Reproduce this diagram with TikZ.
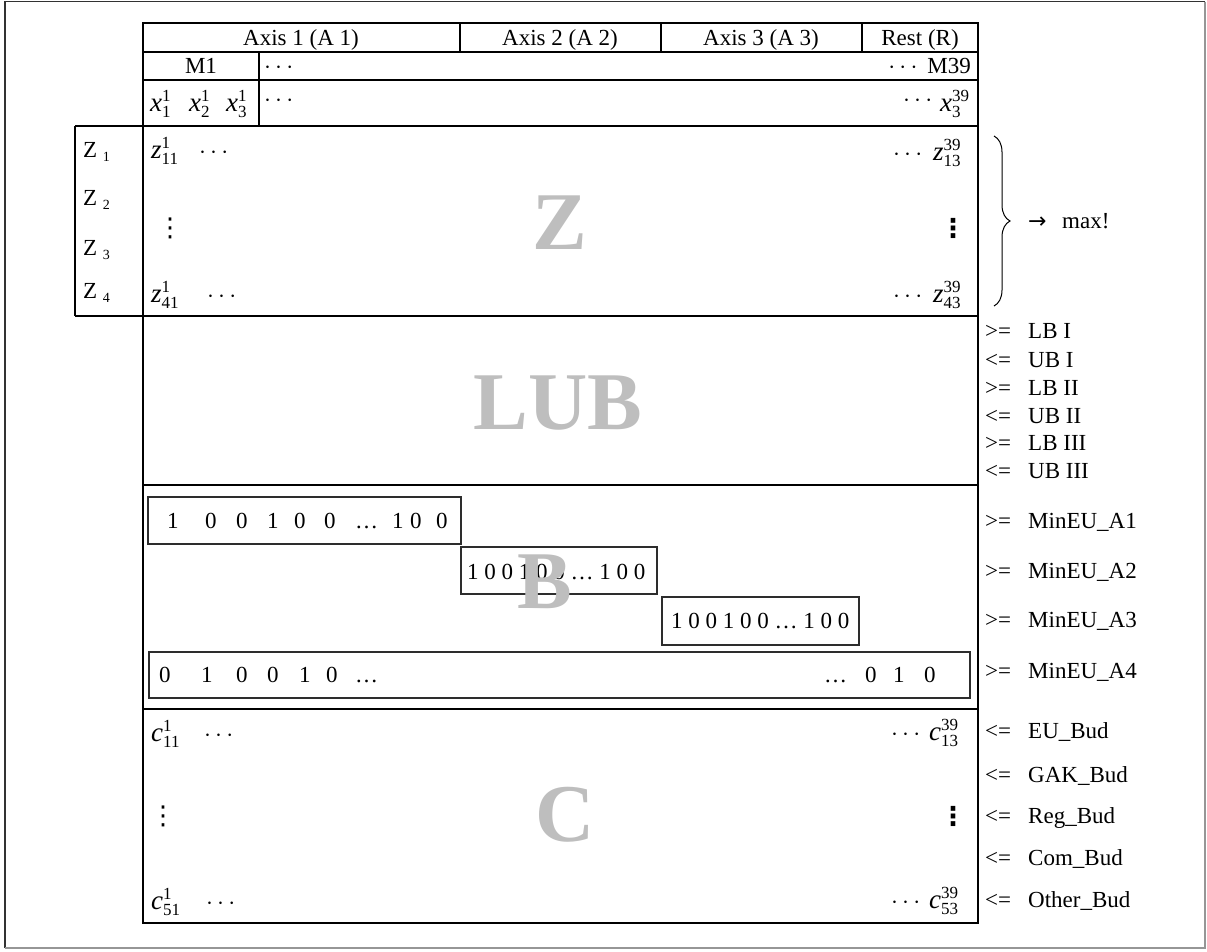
\documentclass[tikz,border=0pt]{standalone}
\usepackage{amsmath}
\usepackage{fontspec}
\setmainfont{Liberation Serif}
\newfontfamily\symfont{DejaVu Sans}
\usetikzlibrary{positioning, decorations.pathreplacing}
\definecolor{framegray}{RGB}{50,50,50}
\definecolor{shadegray}{RGB}{150,150,150}
\definecolor{letgray}{RGB}{190,190,190}
\definecolor{boxline}{RGB}{45,45,45}

\newcommand{\scr}[1]{\text{\fontsize{17}{17}\selectfont #1}}
\newcommand{\tvar}[3]{$\text{\fontsize{27}{27}\selectfont\itshape #1}^{\scr{#2}}_{\scr{#3}}$}
\newcommand{\thinvdots}{{\symfont\fontsize{26}{26}\selectfont ⋮}}
\newcommand{\boldvdots}{{\symfont\bfseries\fontsize{26}{26}\selectfont ⋮}}

\tikzset{
  txt/.style={font=\fontsize{23}{27}\selectfont, inner sep=0pt},
  bigletter/.style={font=\fontsize{82}{86}\selectfont\bfseries, text=letgray, inner sep=0pt},
  grid line/.style={line width=2pt},
  vecbox/.style={draw=boxline, line width=1.1pt},
}

\begin{document}
\begin{tikzpicture}[x=1pt, y=-1pt]
  \useasboundingbox (0,0) rectangle (1207,951);
  % outer frame
  \draw[framegray, line width=1.5pt] (5,948) -- (5,1.5) -- (1205,1.5);
  \draw[shadegray, line width=1.5pt] (1205,1.5) -- (1205,948) -- (5,948);

  % table lines
  \draw[grid line] (143,23) rectangle (978,923);
  \foreach \yy in {52,80,485,709} \draw[grid line] (143,\yy) -- (978,\yy);
  \draw[grid line] (75,126) -- (978,126);
  \draw[grid line] (75,316) -- (978,316);
  \draw[grid line] (75,126) -- (75,316);
  \foreach \xx in {460,661,862} \draw[grid line] (\xx,23) -- (\xx,52);
  \draw[grid line] (259,52) -- (259,126);

  % header rows
  \node[txt, anchor=base] (axisone) at (301,45) {Axis 1 (A 1)};
  \node[txt, anchor=base] (axistwo) at (560,45) {Axis 2 (A 2)};
  \node[txt, anchor=base] (axisthree) at (761,45) {Axis 3 (A 3)};
  \node[txt, anchor=base] (rest) at (920,45) {Rest (R)};
  \node[txt, anchor=base] (mone) at (201,73) {M1};
  \node[txt, anchor=base west] (mdots) at (264,73) {$\cdots$};
  \node[txt, anchor=base east] (mlast) at (971,73) {$\cdots$ M39};
  \node[txt, anchor=base west] (xone) at (150,111) {\tvar{x}{1}{1}};
  \node[txt, anchor=base west] (xtwo) at (189,111) {\tvar{x}{1}{2}};
  \node[txt, anchor=base west] (xthree) at (226,111) {\tvar{x}{1}{3}};
  \node[txt, anchor=base west] (xdots) at (264,106) {$\cdots$};
  \node[txt, anchor=base west] (xrdots) at (903,106) {$\cdots$};
  \node[txt, anchor=base west] (xlast) at (940,111) {\tvar{x}{39}{3}};

  % Z block
  \foreach \i/\yy in {1/157, 2/205, 3/255, 4/298}
    \node[txt, anchor=base west] (zlab\i) at (83,\yy) {Z~\raisebox{-4pt}{\fontsize{14}{14}\selectfont\i}};
  \node[txt, anchor=base west] (zfirst) at (151,158) {\tvar{z}{1}{11}};
  \node[txt, anchor=base west] (zfdots) at (199,158) {$\cdots$};
  \node[txt, anchor=base west] (zlastrow) at (151,302) {\tvar{z}{1}{41}};
  \node[txt, anchor=base west] (zldots) at (207,302) {$\cdots$};
  \node[txt] (zlvdots) at (170,228) {\thinvdots};
  \node[txt, anchor=base west] (zrfdots) at (893,160) {$\cdots$};
  \node[txt, anchor=base west] (zrfirst) at (933,160) {\tvar{z}{39}{13}};
  \node[txt, anchor=base west] (zrldots) at (893,302) {$\cdots$};
  \node[txt, anchor=base west] (zrlast) at (933,302) {\tvar{z}{39}{43}};
  \node[txt] (zrvdots) at (953,228) {\boldvdots};
  \node[bigletter] (bigz) at (560,223) {Z};
  \draw[line width=1pt, decorate, decoration={brace, amplitude=16pt}] (994,136) -- (994,306);
  \node[txt, anchor=base west, font=\symfont\fontsize{22}{24}\selectfont] (arrow) at (1028,228) {→};
  \node[txt, anchor=base west] (maxlab) at (1062,228) {max!};

  % LUB block
  \node[bigletter] (biglub) at (558,403) {LUB};
  \foreach \rel/\lab/\yy [count=\i] in {>=/LB I/338, <=/UB I/367, >=/LB II/395,
      <=/UB II/423, >=/LB III/450, <=/UB III/478} {
    \node[txt, anchor=base west] (lubrel\i) at (985,\yy) {\rel};
    \node[txt, anchor=base west] (lublab\i) at (1028,\yy) {\lab};
  }

  % B block
  \draw[vecbox] (148,497) rectangle (461,544);
  \draw[vecbox] (461,547) rectangle (657,594);
  \draw[vecbox] (662,597) rectangle (859,645);
  \draw[vecbox] (149,652) rectangle (970,698);
  \foreach \xx/\d [count=\i] in {167/1, 205/0, 236/0, 267/1, 294/0, 324/0, 355/…, 392/1, 410/0, 436/0}
    \node[txt, anchor=base west] (bone\i) at (\xx,528) {\d};
  \node[txt, anchor=base west] (btwo) at (467,579) {1 0 0 1 0 0 … 1 0 0};
  \node[txt, anchor=base west] (bthree) at (671,628) {1 0 0 1 0 0 … 1 0 0};
  \foreach \xx/\d [count=\i] in {159/0, 201/1, 236/0, 267/0, 299/1, 326/0, 355/…}
    \node[txt, anchor=base west] (bfourl\i) at (\xx,682) {\d};
  \foreach \xx/\d [count=\i] in {824/…, 865/0, 893/1, 924/0}
    \node[txt, anchor=base west] (bfourr\i) at (\xx,682) {\d};
  \node[bigletter] (bigb) at (545,582) {B};
  \foreach \lab/\yy [count=\i] in {MinEU\_A1/528, MinEU\_A2/578, MinEU\_A3/627, MinEU\_A4/678} {
    \node[txt, anchor=base west] (minrel\i) at (985,\yy) {>=};
    \node[txt, anchor=base west] (minlab\i) at (1028,\yy) {\lab};
  }

  % C block
  \node[txt, anchor=base west] (cfirst) at (151,741) {\tvar{c}{1}{11}};
  \node[txt, anchor=base west] (cfdots) at (204,741) {$\cdots$};
  \node[txt, anchor=base west] (clastrow) at (151,909) {\tvar{c}{1}{51}};
  \node[txt, anchor=base west] (cldots) at (206,909) {$\cdots$};
  \node[txt] (clvdots) at (163,816) {\thinvdots};
  \node[txt, anchor=base west] (crfdots) at (891,740) {$\cdots$};
  \node[txt, anchor=base west] (crfirst) at (929,740) {\tvar{c}{39}{13}};
  \node[txt, anchor=base west] (crldots) at (891,908) {$\cdots$};
  \node[txt, anchor=base west] (crlast) at (929,908) {\tvar{c}{39}{53}};
  \node[txt] (crvdots) at (953,816) {\boldvdots};
  \node[bigletter] (bigc) at (565,815) {C};
  \foreach \lab/\yy [count=\i] in {EU\_Bud/738, GAK\_Bud/782, Reg\_Bud/823, Com\_Bud/865, Other\_Bud/907} {
    \node[txt, anchor=base west] (budrel\i) at (985,\yy) {<=};
    \node[txt, anchor=base west] (budlab\i) at (1028,\yy) {\lab};
  }
\end{tikzpicture}
\end{document}
